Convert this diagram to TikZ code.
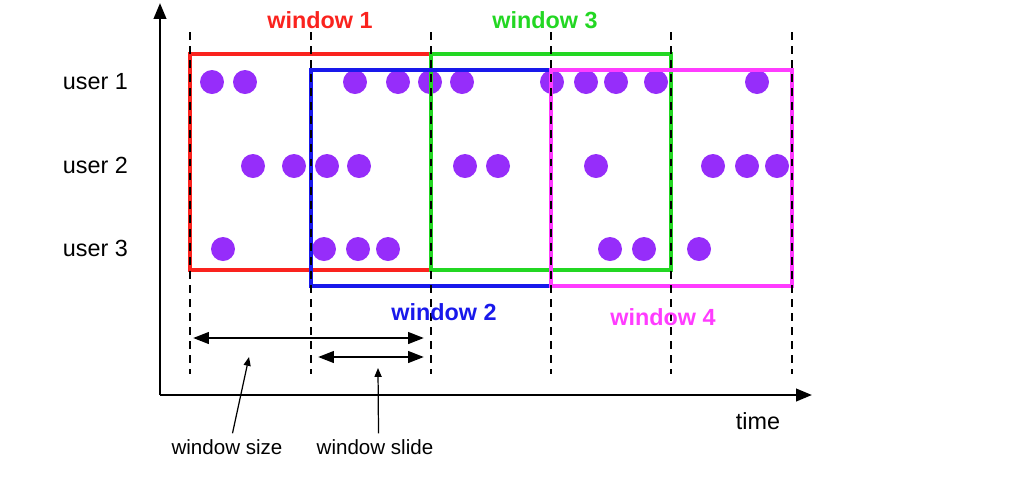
\documentclass[tikz,border=0pt]{standalone}
\usepackage{fontspec}
\setmainfont{Liberation Sans}
\usetikzlibrary{arrows.meta,positioning}
\definecolor{cred}{RGB}{250,35,30}
\definecolor{cgreen}{RGB}{35,215,35}
\definecolor{cblue}{RGB}{25,25,235}
\definecolor{cmag}{RGB}{255,60,255}
\definecolor{cdot}{RGB}{150,45,250}
\tikzset{
  ev/.style={circle,fill=cdot,draw=none,minimum size=0.48cm,inner sep=0pt},
  win/.style={line width=2.2pt},
  gridline/.style={dash pattern=on 4.5pt off 3.5pt,line width=1.3pt},
  winlab/.style={font=\fontsize{13.3}{15}\selectfont\bfseries},
  userlab/.style={font=\fontsize{13.3}{15}\selectfont,anchor=east},
  note/.style={font=\fontsize{11.7}{14}\selectfont},
  axis/.style={-{Triangle[length=9pt,width=7pt]},line width=1.5pt},
  arr/.style={{Triangle[length=9pt,width=6.5pt]}-{Triangle[length=9pt,width=6.5pt]},
    line width=1.5pt},
  ptr/.style={-{Triangle[length=5pt,width=4pt]},line width=0.7pt}
}

\begin{document}
\begin{tikzpicture}[x=0.02cm,y=-0.02cm]
  \useasboundingbox (0,0) rectangle (1018,478);
  % axes
  \coordinate (o) at (160,395);
  \coordinate (ytop) at (160,3);
  \coordinate (xend) at (812,395);
  \draw[axis] (o) -- (ytop);
  \draw[axis] (o) -- (xend);
  \node[userlab] (u1) at (134,82) {user 1};
  \node[userlab] (u2) at (134,165) {user 2};
  \node[userlab] (u3) at (134,248) {user 3};
  \node[font=\fontsize{13.3}{15}\selectfont] (time) at (758,421) {time};
  % events
  \foreach \x in {212,245,355,398,430,462,552,586,616,656,757}
    \node[ev] (ea\x) at (\x,82) {};
  \foreach \x in {253,294,327,359,465,498,596,713,747,777}
    \node[ev] (eb\x) at (\x,166) {};
  \foreach \x in {223,324,358,388,610,644,699}
    \node[ev] (ec\x) at (\x,249) {};
  % windows
  \draw[win,cred] (190,54) rectangle (431,270);
  \draw[win,cgreen] (431,54) rectangle (671,270);
  \draw[win,cblue] (311,70) rectangle (551,286);
  \draw[win,cmag] (551,70) rectangle (792,286);
  \foreach \x in {190,311,431,551,671,792}
    \draw[gridline] (\x,32) -- (\x,374);
  \node[winlab,text=cred] (w1) at (320,20) {window 1};
  \node[winlab,text=cgreen] (w3) at (545,20) {window 3};
  \node[winlab,text=cblue] (w2) at (444,312) {window 2};
  \node[winlab,text=cmag] (w4) at (663,317) {window 4};
  % size and slide
  \coordinate (sa) at (193,338);
  \coordinate (sb) at (424,338);
  \coordinate (da) at (318,357);
  \coordinate (db) at (424,357);
  \draw[arr] (sa) -- (sb);
  \draw[arr] (da) -- (db);
  \node[note] (wsize) at (227,447) {window size};
  \node[note] (wslide) at (375,447) {window slide};
  \coordinate (pa) at (249,357);
  \coordinate (pb) at (378,368);
  \draw[ptr] ([xshift=0.11cm]wsize.north) -- (pa);
  \draw[ptr] ([xshift=0.07cm]wslide.north) -- (pb);
\end{tikzpicture}
\end{document}
